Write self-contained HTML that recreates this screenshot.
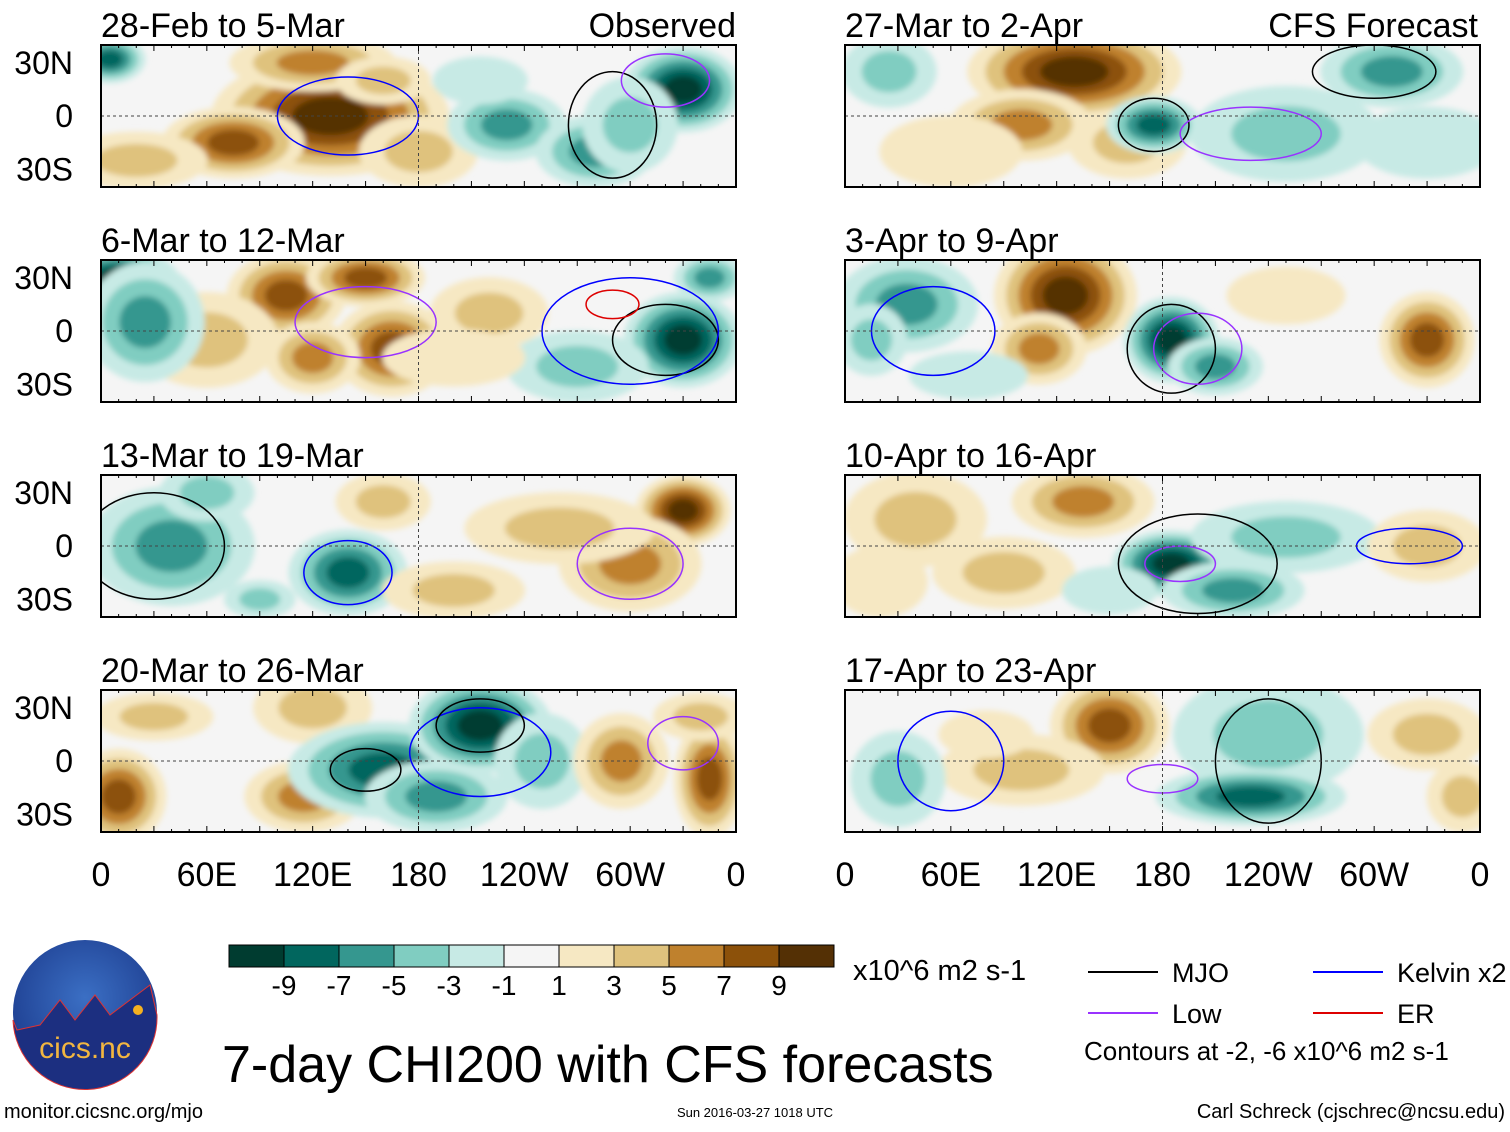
<!DOCTYPE html>
<html><head><meta charset="utf-8"><style>
body{margin:0;background:#fff;width:1510px;height:1127px;overflow:hidden;font-family:"Liberation Sans",sans-serif}
svg text{font-family:"Liberation Sans",sans-serif}
</style></head><body>
<svg id="fig" width="1510" height="1127" xmlns="http://www.w3.org/2000/svg">
<defs><filter id="bl" x="-50%" y="-50%" width="200%" height="200%"><feGaussianBlur stdDeviation="3"/></filter>
<radialGradient id="lg" cx="50%" cy="40%" r="60%"><stop offset="0" stop-color="#3b6fc4"/><stop offset="1" stop-color="#1d3d8f"/></radialGradient></defs>
</svg>
<script>
const titles=["28-Feb to 5-Mar","6-Mar to 12-Mar","13-Mar to 19-Mar","20-Mar to 26-Mar","27-Mar to 2-Apr","3-Apr to 9-Apr","10-Apr to 16-Apr","17-Apr to 23-Apr"];
const xTicks=["0","60E","120E","180","120W","60W","0"];
const yTicks=["30N","0","30S"];
const cbLabels=["-9","-7","-5","-3","-1","1","3","5","7","9"];
const posColors=["#f6e8c3","#dfc27d","#bf812d","#8c510a","#543005"];
const negColors=["#c7eae5","#80cdc1","#35978f","#01665e","#003c30"];
// blobs: [lon, lat, rLon, rLat, value]
const blobs0=[[130,0,50,25,9],[75,-15,30,15,7],[120,30,35,12,5],[180,-20,25,15,3],[20,-25,30,12,3],[160,20,20,10,3],[5,32,15,10,-7],[230,-5,25,15,-5],[330,15,25,18,-9],[280,-20,25,15,-5],[215,20,20,10,-1],[300,-5,20,20,-3]];
const blobs1=[[105,20,25,18,7],[150,30,25,12,7],[165,-10,25,20,7],[120,-15,20,15,5],[60,-5,30,20,3],[220,10,25,15,3],[10,30,25,12,-9],[25,5,25,25,-5],[330,-5,25,20,-9],[345,30,15,10,-5],[270,-20,30,15,-3],[200,-15,30,12,1]];
const blobs2=[[40,0,35,25,-5],[60,30,20,12,-3],[140,-15,25,18,-7],[330,20,20,15,9],[300,-10,30,20,5],[260,10,40,15,3],[200,-25,30,12,3],[160,25,20,12,3],[90,-30,15,8,-3]];
const blobs3=[[10,-20,20,20,7],[30,25,25,10,3],[115,-20,25,15,5],[120,30,25,15,3],[160,-5,40,20,-7],[215,20,30,20,-9],[190,-20,30,15,-5],[250,0,20,20,-3],[295,0,20,20,5],[345,-10,15,25,7],[340,25,20,10,3]];
const blobs4=[[130,25,45,20,9],[100,-5,30,15,5],[160,-15,25,15,3],[175,-5,20,12,-7],[25,25,20,15,-3],[310,25,30,15,-5],[250,-10,40,20,-3],[330,-15,30,15,-1],[60,-20,30,15,1]];
const blobs5=[[125,20,30,25,9],[110,-10,20,15,5],[185,-5,20,18,-9],[210,-20,20,12,-5],[35,15,30,20,-5],[15,-5,15,15,-3],[330,-5,20,20,7],[250,20,25,12,1],[70,-25,25,10,-1]];
const blobs6=[[185,-10,25,14,-9],[220,-25,30,12,-5],[250,5,40,15,-3],[135,25,30,15,5],[90,-15,30,15,3],[330,0,25,15,3],[40,15,30,20,3],[20,-20,20,15,1],[150,-25,20,10,-1]];
const blobs7=[[150,20,25,20,7],[100,-5,35,15,3],[30,-10,20,20,-3],[240,15,40,25,-3],[230,-20,40,12,-7],[330,15,25,15,3],[350,-20,15,15,3],[80,15,20,10,1]];
const allBlobs=[blobs0,blobs1,blobs2,blobs3,blobs4,blobs5,blobs6,blobs7];
// contours: [panel, lon, lat, rLon, rLat, kind]
const contours=[[0,290,-5,25,30,"mjo"],[0,140,0,40,22,"kelvin"],[0,320,20,25,15,"low"],[1,320,-5,30,20,"mjo"],[1,300,0,50,30,"kelvin"],[1,290,15,15,8,"er"],[1,150,5,40,20,"low"],
[2,140,-15,25,18,"kelvin"],[2,30,0,40,30,"mjo"],[2,300,-10,30,20,"low"],[3,215,5,40,25,"kelvin"],[3,215,20,25,15,"mjo"],[3,150,-5,20,12,"mjo"],[3,330,10,20,15,"low"],
[4,175,-5,20,15,"mjo"],[4,230,-10,40,15,"low"],[4,300,25,35,15,"mjo"],[5,185,-10,25,25,"mjo"],[5,200,-10,25,20,"low"],[5,50,0,35,25,"kelvin"],
[6,200,-10,45,28,"mjo"],[6,190,-10,20,10,"low"],[6,320,0,30,10,"kelvin"],[7,60,0,30,28,"kelvin"],[7,240,0,30,35,"mjo"],[7,180,-10,20,8,"low"]];
const ns="http://www.w3.org/2000/svg";
const svg=document.getElementById('fig');
function mk(t,a,p){const e=document.createElementNS(ns,t);for(const k in a)e.setAttribute(k,a[k]);(p||svg).appendChild(e);return e;}
const W=635,H=142,GROW=1.35;
const panelX=[101,845],panelY=[45,260,475,690];
function xs(x0,lon){return x0+lon/360*W;}
function ys(y0,lat){return y0+(40-lat)/80*H;}
const kindColor={mjo:"#000",kelvin:"#0000ff",low:"#9933ff",er:"#dd0000"};
for(let p=0;p<8;p++){
  const x0=panelX[Math.floor(p/4)],y0=panelY[p%4];
  const g=mk('g',{});
  
  
  mk('clipPath',{id:'c'+p},g);mk('rect',{x:x0,y:y0,width:W,height:H},g.lastChild);
  mk('rect',{x:x0,y:y0,width:W,height:H,fill:'#f5f5f5'},g);
  const inner=mk('g',{'clip-path':'url(#c'+p+')'},g);
  const fg=mk('g',{filter:'url(#bl)'},inner);
  for(const b of allBlobs[p]){
    const v=Math.abs(b[4]),cols=b[4]>0?posColors:negColors;
    for(let L=1,i=0;L<=v;L+=2,i++){
      const f=1-(L-1)/(v+1)*0.85;
      const e=mk('ellipse',{cx:xs(x0,b[0]),cy:ys(y0,b[1]),rx:b[2]/360*W*f*GROW,ry:b[3]/80*H*f*GROW,fill:cols[i]},fg);
      
      
    }
  }
  for(const c of contours.filter(c=>c[0]===p)){
    const e=mk('ellipse',{cx:xs(x0,c[1]),cy:ys(y0,c[2]),rx:c[3]/360*W,ry:c[4]/80*H,fill:'none',stroke:kindColor[c[5]],'stroke-width':1.5},inner);
    
    
  }
  mk('line',{x1:x0,x2:x0+W,y1:ys(y0,0),y2:ys(y0,0),stroke:'#444','stroke-dasharray':'3,3'},g);
  mk('line',{x1:xs(x0,180),x2:xs(x0,180),y1:y0,y2:y0+H,stroke:'#444','stroke-dasharray':'3,3'},g);
  mk('rect',{x:x0,y:y0,width:W,height:H,fill:'none',stroke:'#000','stroke-width':2},g);
  for(let lon=0;lon<=360;lon+=10){const x=xs(x0,lon);mk('line',{x1:x,x2:x,y1:y0,y2:y0+(lon%30?3:6),stroke:'#000'},g);mk('line',{x1:x,x2:x,y1:y0+H,y2:y0+H-(lon%30?3:6),stroke:'#000'},g);}
  const t=mk('text',{x:x0,y:y0-8,'font-size':34},g);t.textContent=titles[p];
  
  if(p<4){yTicks.forEach((s,i)=>{const tt=mk('text',{x:73,y:ys(y0,30-30*i)+11,'font-size':32,'text-anchor':'end'});tt.textContent=s;
    });}
}
const o=mk('text',{x:736,y:37,'font-size':34,'text-anchor':'end'});o.textContent="Observed";

const cf=mk('text',{x:1478,y:37,'font-size':34,'text-anchor':'end'});cf.textContent="CFS Forecast";

for(const x0 of panelX){xTicks.forEach((s,i)=>{const t=mk('text',{x:x0+i*W/6,y:886,'font-size':34,'text-anchor':'middle'});t.textContent=s;
  });}
const cbCols=negColors.slice().reverse().concat(["#f5f5f5"],posColors);
cbCols.forEach((c,i)=>{const r=mk('rect',{x:229+i*55,y:945,width:55,height:22,fill:c,stroke:'#000'});
  });
cbLabels.forEach((s,i)=>{const t=mk('text',{x:284+i*55,y:995,'font-size':28,'text-anchor':'middle'});t.textContent=s;
  });
function txt(x,y,s,fs,name,anchor){const t=mk('text',{x:x,y:y,'font-size':fs,'text-anchor':anchor||'start'});t.textContent=s;return t;}
txt(853,980,"x10^6 m2 s-1",29,'colorbar-units');
const leg=[[1088,972,"#000","MJO"],[1313,972,"#0000ff","Kelvin x2"],[1088,1013,"#9933ff","Low"],[1313,1013,"#dd0000","ER"]];
leg.forEach(l=>{const ln=mk('line',{x1:l[0],x2:l[0]+70,y1:l[1],y2:l[1],stroke:l[2],'stroke-width':2});
  
  txt(l[0]+84,l[1]+10,l[3],27,'legend-entry');});
txt(1084,1060,"Contours at -2, -6 x10^6 m2 s-1",26,'contour-note');
txt(222,1082,"7-day CHI200 with CFS forecasts",52,'main-title');
txt(4,1118,"monitor.cicsnc.org/mjo",20,'website-url');
txt(755,1117,"Sun 2016-03-27 1018 UTC",13,'timestamp','middle');
txt(1505,1118,"Carl Schreck (cjschrec@ncsu.edu)",20,'author-credit','end');
const lgG=mk('g',{});
mk('circle',{cx:85,cy:1012,r:72,fill:'url(#lg)'},lgG);
mk('path',{d:"M17 1030 L40 1025 L60 1000 L75 1020 L95 995 L110 1015 L130 1000 L150 985 L157 1015 A72 72 0 0 1 13 1020 Z",fill:'#1c2f80',stroke:'#d33','stroke-width':1},lgG);
mk('circle',{cx:138,cy:1010,r:5,fill:'#f5b120'},lgG);
const lt=mk('text',{x:85,y:1058,'font-size':30,fill:'#f2b640','text-anchor':'middle'},lgG);lt.textContent="cics.nc";
</script>
</body></html>
